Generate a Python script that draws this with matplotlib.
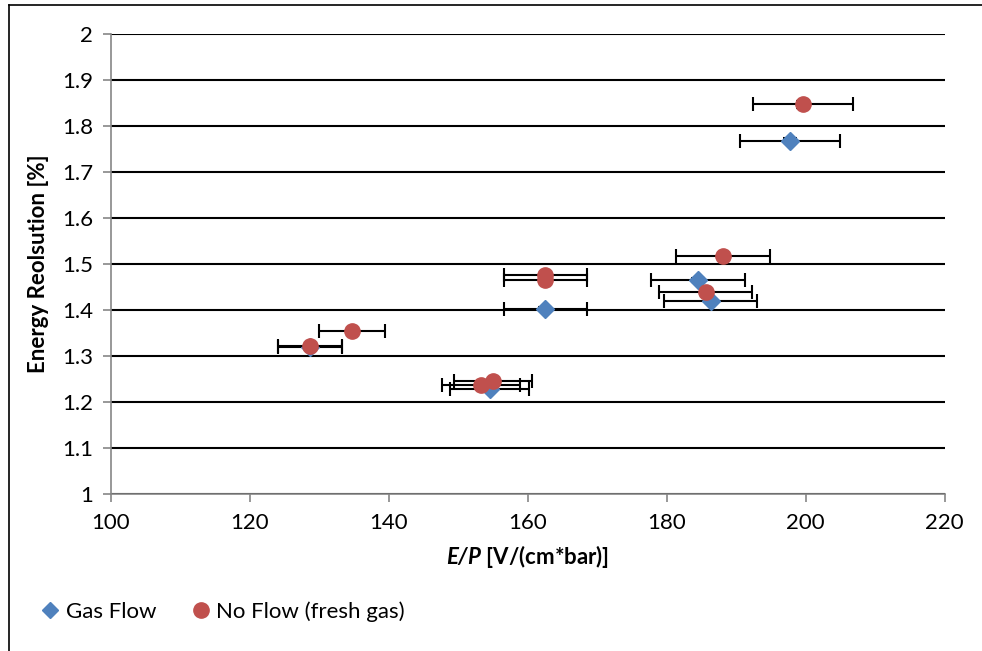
import matplotlib
matplotlib.use("Agg")
import matplotlib.pyplot as plt
from matplotlib.lines import Line2D

plt.rcParams['font.family'] = ['Lato', 'DejaVu Sans']
plt.rcParams['mathtext.fontset'] = 'custom'
plt.rcParams['mathtext.bfit'] = 'Lato:italic:bold'
plt.rcParams['mathtext.it'] = 'Lato:italic'

# Gas Flow (blue diamonds)
gas_x = [197.8, 184.5, 186.3, 162.5, 154.5, 128.7]
gas_y = [1.768, 1.465, 1.420, 1.403, 1.228, 1.320]
gas_xerr = [7.2, 6.7, 6.7, 6.0, 5.7, 4.6]
gas_yerr = [0.006, 0.004, 0.004, 0.004, 0.004, 0.004]

# No Flow (fresh gas) (red circles)
noflow_x = [199.6, 188.1, 185.6, 162.5, 162.5, 134.7, 128.7, 153.3, 155.0]
noflow_y = [1.847, 1.518, 1.440, 1.476, 1.465, 1.355, 1.321, 1.236, 1.246]
noflow_xerr = [7.2, 6.8, 6.7, 6.0, 6.0, 4.8, 4.6, 5.6, 5.6]
noflow_yerr = [0.008, 0.004, 0.004, 0.004, 0.004, 0.004, 0.004, 0.004, 0.004]

xticks = [100, 120, 140, 160, 180, 200, 220]
yticks = [1, 1.1, 1.2, 1.3, 1.4, 1.5, 1.6, 1.7, 1.8, 1.9, 2]
ytick_labels = ["1", "1.1", "1.2", "1.3", "1.4", "1.5", "1.6", "1.7", "1.8", "1.9", "2"]

blue = "#4F81BD"
red = "#C0504D"

fig = plt.figure(figsize=(9.82, 6.51), dpi=100)
ax = fig.add_axes([0.113, 0.2412, 0.849, 0.7066])

# outer chart border (left and top edges visible)
fig.add_artist(Line2D([8.5 / 982, 8.5 / 982], [0, 1 - 5 / 651], transform=fig.transFigure,
                      color="black", lw=1.2))
fig.add_artist(Line2D([8.5 / 982, 1], [1 - 5 / 651, 1 - 5 / 651], transform=fig.transFigure,
                      color="black", lw=1.2))

ax.errorbar(gas_x, gas_y, xerr=gas_xerr, yerr=gas_yerr, fmt='D', color=blue, ms=9,
            ecolor="black", elinewidth=1.5, capsize=5, capthick=1.5, zorder=3)
ax.errorbar(noflow_x, noflow_y, xerr=noflow_xerr, yerr=noflow_yerr, fmt='o', color=red, ms=11,
            ecolor="black", elinewidth=1.5, capsize=5, capthick=1.5, zorder=4)

ax.set_xlim(100, 220)
ax.set_ylim(1, 2)
ax.set_xticks(xticks)
ax.set_yticks(yticks)
ax.set_yticklabels(ytick_labels)
ax.tick_params(labelsize=16, colors="#868686", labelcolor="black", length=6, width=1.2)
ax.tick_params(axis='x', pad=8)
ax.tick_params(axis='y', pad=7)

ax.yaxis.grid(True, color="black", lw=1.5)
ax.set_axisbelow(True)
for s in ["top", "right"]:
    ax.spines[s].set_visible(False)
for s in ["left", "bottom"]:
    ax.spines[s].set_color("#868686")
    ax.spines[s].set_linewidth(1.2)

ax.set_ylabel("Energy Reolsution [%]", fontsize=16, fontweight="bold", labelpad=9)
ax.set_xlabel(r"$\mathbfit{E/P}$ [V/(cm*bar)]", fontsize=16, fontweight="bold", labelpad=7)

handles = [Line2D([], [], marker='D', color=blue, ls='none', ms=8),
           Line2D([], [], marker='o', color=red, ls='none', ms=11)]
fig.legend(handles, ["Gas Flow", "No Flow (fresh gas)"], loc="center left",
           bbox_to_anchor=(0.015, 0.06), ncol=2, frameon=False, fontsize=16,
           handletextpad=0.0, columnspacing=1.3, handlelength=1.4)

fig.savefig("out.png", dpi=100)
